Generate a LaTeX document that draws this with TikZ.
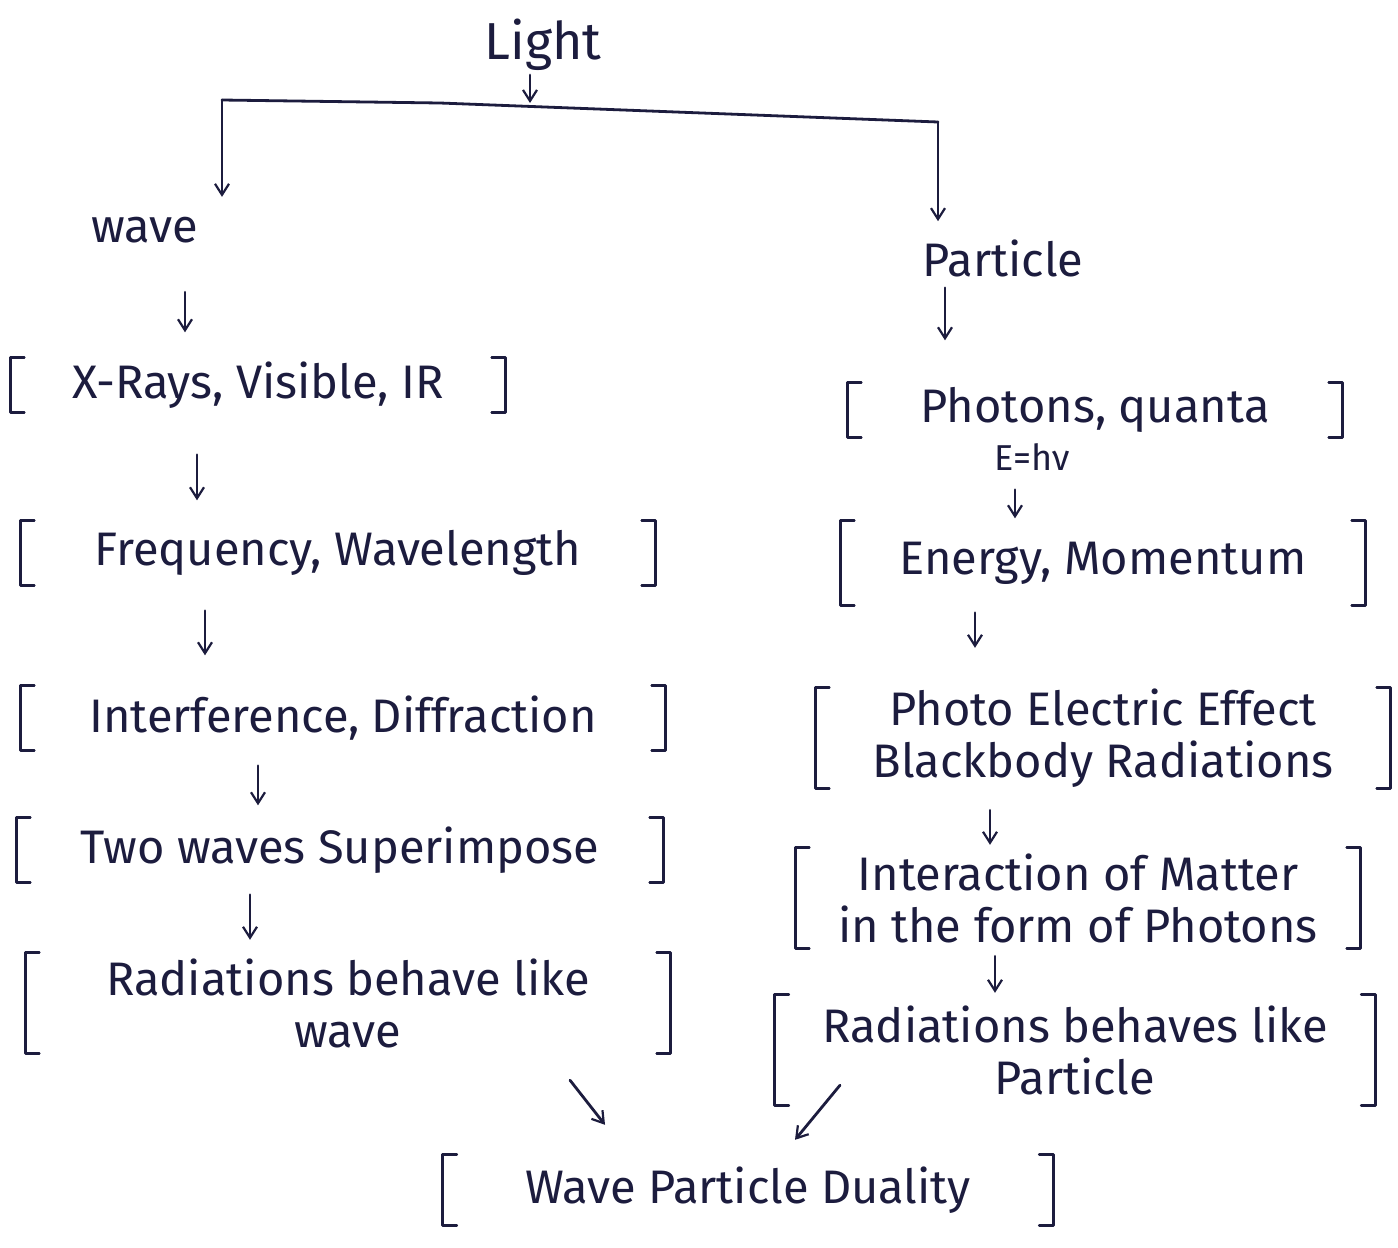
\documentclass[tikz,border=0pt]{standalone}
\usepackage{fontspec}
\setmainfont{Fira Sans}
\usetikzlibrary{arrows.meta,calc}
\definecolor{ink}{RGB}{28,28,62}
\begin{document}
\begin{tikzpicture}[x=1pt,y=-1pt,
  every node/.style={text=ink, font=\fontsize{47}{52}\selectfont},
  lbl/.style={inner sep=4pt},
  bbox/.style={inner sep=0pt, align=center},
  ln/.style={draw=ink, line width=2.8pt, line cap=round, line join=round},
  arr/.style={ln, -{Straight Barb[length=11pt,width=14pt,line width=2.2pt]}}]
\useasboundingbox[fill=white] (0,0) rectangle (1398,1248);

% titles
\node[lbl, font=\fontsize{52}{56}\selectfont] (light) at (543,45) {Light};
\node[lbl] (wave) at (145,230) {wave};
\node[lbl] (particle) at (1003,258) {Particle};

% wave branch
\node[bbox, minimum width=495pt, minimum height=55pt] (xray) at (258,385) {X-Rays, Visible, IR};
\node[bbox, minimum width=635pt, minimum height=65pt] (freq) at (338,553) {Frequency, Wavelength};
\node[bbox, minimum width=645pt, minimum height=65pt] (interf) at (343,718) {Interference, Diffraction};
\node[bbox, minimum width=647pt, minimum height=65pt] (two) at (340,850) {Two waves Superimpose};
\node[bbox, minimum width=645pt, minimum height=100pt] (radw) at (348,1003) {Radiations behave like\\wave};

% particle branch
\node[bbox, minimum width=495pt, minimum height=55pt] (photons) at (1095,410) {Photons, quanta};
\node[lbl, font=\fontsize{36}{40}\selectfont] (eh) at (1032,457) {E=hν};
\node[bbox, minimum width=525pt, minimum height=85pt] (energy) at (1103,563) {Energy, Momentum};
\node[bbox, minimum width=575pt, minimum height=100pt] (photo) at (1103,738) {Photo Electric Effect\\Blackbody Radiations};
\node[bbox, minimum width=565pt, minimum height=100pt] (inter) at (1078,898) {Interaction of Matter\\in the form of Photons};
\node[bbox, minimum width=600pt, minimum height=110pt] (radp) at (1075,1050) {Radiations behaves like\\Particle};

% result
\node[bbox, minimum width=610pt, minimum height=70pt] (dual) at (748,1190) {Wave Particle Duality};

% brackets
\foreach \n in {xray,freq,interf,two,radw,photons,energy,photo,inter,radp,dual}{
  \draw[ln] ([xshift=14pt]\n.north west) -- (\n.north west) -- (\n.south west) -- ([xshift=14pt]\n.south west);
  \draw[ln] ([xshift=-14pt]\n.north east) -- (\n.north east) -- (\n.south east) -- ([xshift=-14pt]\n.south east);
}

% top tree
\coordinate (bl) at (222,100);
\coordinate (bm) at (530,103);
\coordinate (br) at (938,122);
\draw[arr] (light.south -| bm) -- (bm);
\draw[ln] (bl) -- (440,103) -- (br);
\draw[arr, shorten >=16pt] (bl) -- (bl |- wave.north);
\draw[arr, shorten >=14pt] (br) -- (br |- particle.north);

% wave chain
\draw[arr, shorten <=45pt, shorten >=25pt] (wave.south -| 185,0) -- (xray.north -| 185,0);
\draw[arr, shorten <=42pt, shorten >=20pt] (xray.south -| 197,0) -- (freq.north -| 197,0);
\draw[arr, shorten <=25pt, shorten >=30pt] (freq.south -| 205,0) -- (interf.north -| 205,0);
\draw[arr, shorten <=15pt, shorten >=12pt] (interf.south -| 258,0) -- (two.north -| 258,0);
\draw[arr, shorten <=12pt, shorten >=13pt] (two.south -| 250,0) -- (radw.north -| 250,0);

% particle chain
\draw[arr, shorten <=7pt, shorten >=42pt] (particle.south -| 945,0) -- (photons.north -| 945,0);
\draw[arr, shorten <=52pt, shorten >=2pt] (photons.south -| 1015,0) -- (energy.north -| 1015,0);
\draw[arr, shorten <=7pt, shorten >=40pt] (energy.south -| 975,0) -- (photo.north -| 975,0);
\draw[arr, shorten <=22pt, shorten >=3pt] (photo.south -| 990,0) -- (inter.north -| 990,0);
\draw[arr, shorten <=8pt, shorten >=2pt] (inter.south -| 995,0) -- (radp.north -| 995,0);

% to duality
\draw[arr] ([xshift=222pt,yshift=-27pt]radw.south) -- ([xshift=-143pt,yshift=30pt]dual.north);
\draw[arr] ([xshift=-235pt,yshift=20pt]radp.south) -- ([xshift=47pt,yshift=15pt]dual.north);
\end{tikzpicture}
\end{document}
